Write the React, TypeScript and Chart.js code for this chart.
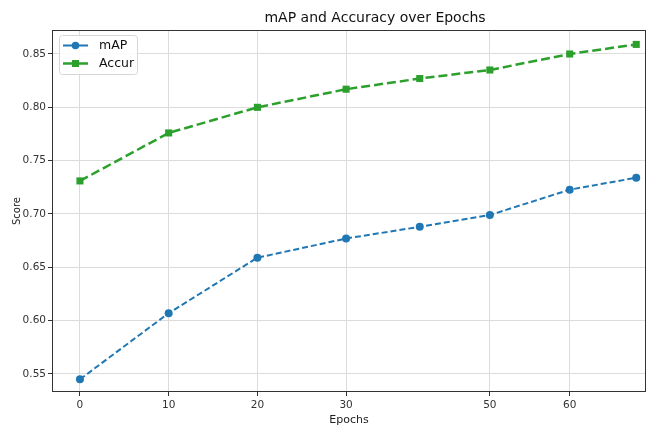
import React, { useEffect, useRef } from 'react';
import { Chart, registerables } from 'chart.js';

Chart.register(...registerables);

const epochPositions = [0, 10, 20, 30, 38.3, 46.2, 55.2, 62.7];
const mapScores = [0.545, 0.607, 0.659, 0.677, 0.688, 0.699, 0.7228, 0.734];
const accurScores = [0.731, 0.776, 0.8, 0.817, 0.827, 0.835, 0.85, 0.859];
const xTickValues = [0, 10, 20, 30, 46.2, 55.2];
const xTickLabels = ['0', '10', '20', '30', '50', '60'];
const yTickValues = [0.55, 0.6, 0.65, 0.7, 0.75, 0.8, 0.85];
const seriesNames = ['mAP', 'Accur'];
const titleText = 'mAP and Accuracy over Epochs';

const FONT = "'DejaVu Sans', sans-serif";
const BLUE = '#1f77b4';
const GREEN = '#2ca02c';

const overlay = {
  id: 'overlay',
  afterDraw(chart: any) {
    const { ctx, chartArea: a } = chart;
    ctx.save();
    // frame
    ctx.strokeStyle = '#333';
    ctx.lineWidth = 1;
    ctx.strokeRect(a.left + 0.5, a.top + 0.5, a.right - a.left - 1, a.bottom - a.top - 1);
    // title
    ctx.fillStyle = '#111';
    ctx.font = `14px ${FONT}`;
    ctx.textAlign = 'center';
    ctx.textBaseline = 'middle';
    ctx.fillText(titleText, (a.left + a.right) / 2 + 26, 18);
    // legend
    const bx = a.left + 7, by = a.top + 5, bw = 78, bh = 39;
    ctx.beginPath();
    (ctx as any).roundRect(bx + 0.5, by + 0.5, bw, bh, 3);
    ctx.fillStyle = 'rgba(255,255,255,0.85)';
    ctx.fill();
    ctx.strokeStyle = '#d6d6d6';
    ctx.stroke();
    chart.data.datasets.forEach((ds: any, i: number) => {
      const y = by + 10.5 + i * 18;
      const x0 = bx + 4, x1 = bx + 29;
      ctx.beginPath();
      ctx.moveTo(x0, y);
      ctx.lineTo(x1, y);
      ctx.strokeStyle = ds.borderColor;
      ctx.lineWidth = ds.borderWidth;
      ctx.stroke();
      ctx.fillStyle = ds.borderColor;
      const cx = (x0 + x1) / 2;
      if (ds.pointStyle === 'rect') {
        ctx.fillRect(cx - 3.5, y - 3.5, 7, 7);
      } else {
        ctx.beginPath();
        ctx.arc(cx, y, 3.8, 0, Math.PI * 2);
        ctx.fill();
      }
      ctx.fillStyle = '#111';
      ctx.font = `12.5px ${FONT}`;
      ctx.textAlign = 'left';
      ctx.textBaseline = 'middle';
      ctx.fillText(ds.label, bx + 40, y);
    });
    ctx.restore();
  },
};

export default function App() {
  const ref = useRef<HTMLCanvasElement>(null);
  useEffect(() => {
    document.body.style.margin = '0';
    Chart.defaults.font.family = FONT;
    const chart = new Chart(ref.current!, {
      type: 'line',
      data: {
        datasets: [
          {
            label: seriesNames[0],
            data: epochPositions.map((x, i) => ({ x, y: mapScores[i] })),
            borderColor: BLUE,
            backgroundColor: BLUE,
            borderWidth: 2,
            borderDash: [6, 3],
            pointStyle: 'circle',
            pointRadius: 4,
            pointBorderWidth: 0,
            tension: 0,
          },
          {
            label: seriesNames[1],
            data: epochPositions.map((x, i) => ({ x, y: accurScores[i] })),
            borderColor: GREEN,
            backgroundColor: GREEN,
            borderWidth: 2.5,
            borderDash: [9, 4],
            pointStyle: 'rect',
            pointRadius: 5,
            pointBorderWidth: 0,
            tension: 0,
          },
        ],
      },
      options: {
        animation: false,
        responsive: true,
        maintainAspectRatio: false,
        layout: { padding: { top: 30, right: 3, left: 0, bottom: 0 } },
        plugins: {
          legend: { display: false },
          title: { display: false },
          tooltip: { enabled: false },
        },
        scales: {
          x: {
            type: 'linear',
            min: -3.15,
            max: 63.8,
            afterBuildTicks: (s: any) => {
              s.ticks = xTickValues.map((v) => ({ value: v }));
            },
            afterFit: (s: any) => {
              s.height = 36;
            },
            ticks: {
              autoSkip: false,
              maxRotation: 0,
              padding: 3,
              color: '#333',
              font: { size: 10.5 },
              callback: (_v: any, i: number) => xTickLabels[i],
            },
            grid: { color: '#dcdcdc', lineWidth: 1, tickLength: 4, tickColor: '#333' },
            border: { display: false },
            title: {
              display: true,
              text: 'Epochs',
              color: '#222',
              font: { size: 11 },
              padding: { top: 0, bottom: 1 },
            },
          },
          y: {
            type: 'linear',
            min: 0.5331,
            max: 0.8725,
            afterBuildTicks: (s: any) => {
              s.ticks = yTickValues.map((v) => ({ value: v }));
            },
            afterFit: (s: any) => {
              s.width = 52;
            },
            ticks: {
              padding: 2,
              color: '#333',
              font: { size: 10.5 },
              callback: (v: any) => Number(v).toFixed(2),
            },
            grid: { color: '#dcdcdc', lineWidth: 1, tickLength: 4, tickColor: '#333' },
            border: { display: false },
            title: {
              display: true,
              text: 'Score',
              color: '#222',
              font: { size: 10 },
              padding: { top: 11, bottom: 0 },
            },
          },
        },
      },
      plugins: [overlay],
    });
    return () => chart.destroy();
  }, []);
  return (
    <div style={{ width: 651, height: 428, position: 'relative' }}>
      <canvas ref={ref} />
    </div>
  );
}
